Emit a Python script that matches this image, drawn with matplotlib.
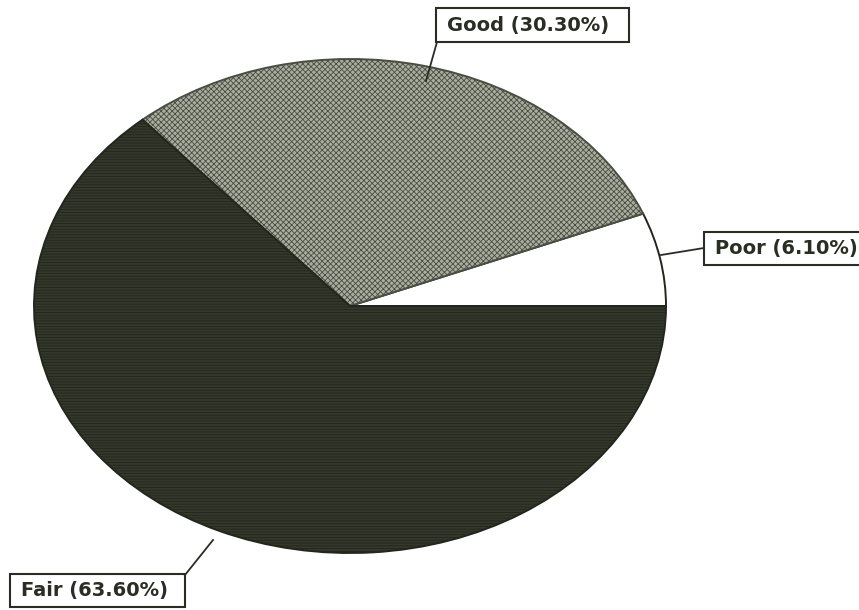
import matplotlib
matplotlib.use('Agg')
import matplotlib.pyplot as plt
from matplotlib.patches import Rectangle
from matplotlib.lines import Line2D

labels = ['Poor', 'Good', 'Fair']
shares = [6.10, 30.30, 63.60]
colors = ['#ffffff', '#a9ac9f', '#33382b']
hatches = ['', 'xxxxxx', '------']

W, H = 859, 610
# ellipse geometry in pixels (pivot and semi-axes)
cx, cy, rx, ry = 350, 306, 316, 247

fig = plt.figure(figsize=(W / 100, H / 100), dpi=100)
ax = fig.add_axes([0, 0, 1, 1])

plt.rcParams['hatch.linewidth'] = 0.6
wedges, _ = ax.pie(shares, startangle=0, counterclock=True, colors=colors,
                   wedgeprops=dict(edgecolor='#23261d', linewidth=1.4))
for w, h in zip(wedges, hatches):
    if h:
        w.set_hatch(h)
wedges[1].set_edgecolor('#4a4e42')
wedges[2].set_edgecolor('#23261d')

ax.set_aspect('auto')
ax.set_xlim((0 - cx) / rx, (W - cx) / rx)
ax.set_ylim((cy - H) / ry, (cy - 0) / ry)
ax.axis('off')


def fx(x):
    return x / W


def fy(y):
    return 1 - y / H


# boxed labels: text, box (left, top, right, bottom), leader from -> to
boxes = [
    ('Good (30.30%)', (436, 8, 629, 42), (437, 42), (426, 81)),
    ('Poor (6.10%)', (704, 232, 880, 265), (704, 248), (661, 255)),
    ('Fair (63.60%)', (10, 574, 185, 607), (185, 575), (213, 540)),
]
for txt, (l, t, r, b), p0, p1 in boxes:
    fig.add_artist(Rectangle((fx(l), fy(b)), (r - l) / W, (b - t) / H,
                             transform=fig.transFigure, facecolor='white',
                             edgecolor='#2a2d24', linewidth=1.5))
    fig.text(fx(l + 11), fy((t + b) / 2), txt, fontsize=14, fontweight='bold',
             color='#2a2d24', va='center', ha='left', family='DejaVu Sans')
    fig.add_artist(Line2D([fx(p0[0]), fx(p1[0])], [fy(p0[1]), fy(p1[1])],
                          transform=fig.transFigure, color='#2a2d24', linewidth=1.3))

fig.savefig('out.png', dpi=100)
